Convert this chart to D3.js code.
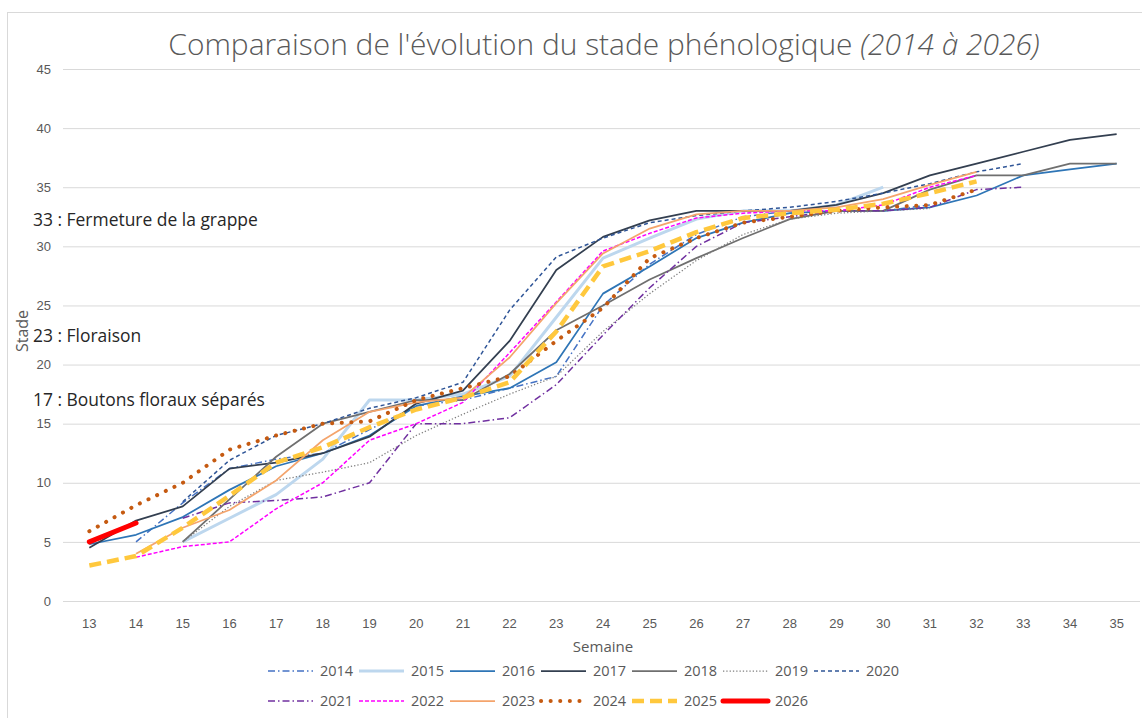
<!DOCTYPE html>
<html>
<head>
<meta charset="utf-8">
<script src="https://cdn.jsdelivr.net/npm/d3@7"></script>
<style>
    body { margin: 0; background: #fff; }
    svg { display: block; font-family: "Open Sans", sans-serif; }
</style>
</head>
<body>
<svg id="chart"></svg>
<script>
// semaines (axe x)
const weeks = [13, 14, 15, 16, 17, 18, 19, 20, 21, 22, 23, 24, 25, 26, 27, 28, 29, 30, 31, 32, 33, 34, 35];
const yTicks = [0, 5, 10, 15, 20, 25, 30, 35, 40, 45];

// stades par semaine, null = pas de relevé
const s2014 = [null, 5, 8.3, 11.2, 12, 12.5, 14.5, 16.5, 17, 18, 19, 25, 28.5, 31, 32.5, 33, 33, 33, 33.5, null, null, null, null];
const s2015 = [null, null, 5, 7, 9, 12, 17, 17, 17.5, 19, 24, 29, 30.7, 32.3, 33, 33, 33.5, 35, null, null, null, null, null];
const s2016 = [4.8, 5.6, 7.1, 9.4, 11.4, 12.5, 14, 16.5, 17.3, 18, 20.2, 26, 28.3, 30.7, 32, 32.8, 33, 33, 33.3, 34.3, 36, 36.5, 37];
const s2017 = [4.5, 6.8, 8, 11.2, 11.7, 12.5, 13.9, 16.7, 17.8, 22, 28, 30.8, 32.2, 33, 33, 33, 33.5, 34.5, 36, 37, 38, 39, 39.5];
const s2018 = [null, null, 5, 8.6, 12.2, 15, 16, 17, 17, 19.2, 22.9, 25, 27.2, 29, 30.7, 32.3, 33, 33, 34.8, 36, 36, 37, 37];
const s2019 = [null, null, 5, 8, 10.2, 10.9, 11.7, 14, 15.8, 17.5, 19, 22.8, 26, 28.8, 31, 32.3, 32.8, 33, 33.2, null, null, null, null];
const s2020 = [null, null, 8.4, 11.9, 14, 15, 16.3, 17.2, 18.5, 24.6, 29.1, 30.7, 32, 32.6, 33, 33.3, 33.8, 34.5, 35.3, 36.3, 37, null, null];
const s2021 = [null, null, 7, 8.3, 8.5, 8.8, 10, 15, 15, 15.5, 18.3, 22.5, 26.5, 30, 32, 32.5, 33, 33, 33.3, 34.8, 35, null, null];
const s2022 = [null, 3.7, 4.6, 5, 7.8, 10, 13.6, 15, 16.8, 21, 25.3, 29.6, 31.1, 32.4, 32.8, 33, 33, 33.5, 35, 36, null, null, null];
const s2023 = [null, 4, 6.2, 7.7, 10.2, 13.6, 16, 16.8, 17.2, 20.6, 25.2, 29.4, 31.5, 32.7, 33, 33, 33.3, 34, 35.2, 36.3, null, null, null];
const s2024 = [5.9, 8.1, 10, 12.8, 14, 15, 15.2, 17, 18, 19, 22, 24.8, 29, 30.7, 32, 32.5, 33, 33.3, 33.5, 34.8, null, null, null];
const s2025 = [3, 3.8, 6.2, 8.9, 11.7, 13, 14.7, 16.2, 17.2, 18.5, 22.8, 28.3, 29.6, 31.2, 32.4, 32.8, 33.1, 33.6, 34.5, 35.5, null, null, null];
const s2026 = [5, 6.6, null, null, null, null, null, null, null, null, null, null, null, null, null, null, null, null, null, null, null, null, null];

const years = ["2014", "2015", "2016", "2017", "2018", "2019", "2020", "2021", "2022", "2023", "2024", "2025", "2026"];
const values = [s2014, s2015, s2016, s2017, s2018, s2019, s2020, s2021, s2022, s2023, s2024, s2025, s2026];

// style de trait par année
const styles = {
    "2014": { color: "#4472C4", width: 1.5, dash: "7,3,1.5,3", cap: "butt" },
    "2015": { color: "#BDD7EE", width: 3, dash: null, cap: "butt" },
    "2016": { color: "#2E75B6", width: 1.75, dash: null, cap: "butt" },
    "2017": { color: "#333F50", width: 1.75, dash: null, cap: "butt" },
    "2018": { color: "#6F6F6F", width: 1.75, dash: null, cap: "butt" },
    "2019": { color: "#7F7F7F", width: 1.25, dash: "1.3,2", cap: "butt" },
    "2020": { color: "#2F5597", width: 1.5, dash: "4,3", cap: "butt" },
    "2021": { color: "#7030A0", width: 1.5, dash: "7,3,1.5,3", cap: "butt" },
    "2022": { color: "#FF00FF", width: 1.5, dash: "4,2", cap: "butt" },
    "2023": { color: "#F4A46C", width: 1.75, dash: null, cap: "butt" },
    "2024": { color: "#C55A11", width: 4, dash: "0.1,9.5", cap: "round" },
    "2025": { color: "#FFC83D", width: 4.5, dash: "12,6", cap: "butt" },
    "2026": { color: "#FF0000", width: 5, dash: null, cap: "round" }
};

const W = 1142, H = 718;
const svg = d3.select("#chart").attr("width", W).attr("height", H);

// cadre du graphique
svg.append("rect")
    .attr("x", 7.5).attr("y", 12.5)
    .attr("width", W).attr("height", H)
    .attr("fill", "#fff").attr("stroke", "#D9D9D9");

const plotLeft = 63, plotRight = 1140, plotTop = 69, plotBottom = 601;

const x = d3.scaleBand().domain(weeks).range([66, plotRight]);
const y = d3.scaleLinear().domain([0, 45]).range([plotBottom, plotTop]);
const cx = w => x(w) + x.bandwidth() / 2;

// grille + axe y
const yAxis = svg.append("g")
    .attr("transform", `translate(${plotLeft},0)`)
    .call(d3.axisLeft(y).tickValues(yTicks).tickSizeInner(-(plotRight - plotLeft)).tickSizeOuter(0).tickPadding(12));
yAxis.select(".domain").remove();
yAxis.selectAll("line").attr("stroke", "#D9D9D9");
yAxis.selectAll("text").attr("fill", "#595959").style("font-size", "13px");

// axe x
const xAxis = svg.append("g")
    .attr("transform", `translate(0,${plotBottom})`)
    .call(d3.axisBottom(x).tickSize(0).tickPadding(18));
xAxis.select(".domain").remove();
xAxis.selectAll("text").attr("fill", "#595959").style("font-size", "13px");

// titres
svg.append("text")
    .attr("x", 603).attr("y", 652)
    .attr("text-anchor", "middle")
    .attr("fill", "#595959")
    .style("font-size", "15px")
    .text("Semaine");

svg.append("text")
    .attr("transform", "translate(28,331) rotate(-90)")
    .attr("text-anchor", "middle")
    .attr("fill", "#595959")
    .style("font-size", "16px")
    .text("Stade");

const title = svg.append("text")
    .attr("x", 604).attr("y", 55)
    .attr("text-anchor", "middle")
    .attr("fill", "#595959")
    .style("font-size", "28px")
    .style("font-weight", 300);
title.append("tspan").text("Comparaison de l'évolution du stade phénologique ");
title.append("tspan").style("font-style", "italic").text("(2014 à 2026)");
// ajuster à la largeur du titre d'origine
let tw = title.node().getComputedTextLength();
title.style("font-size", (28 * 872 / tw) + "px");

// courbes
const line = d3.line()
    .defined(d => d.v != null)
    .x(d => cx(d.w))
    .y(d => y(d.v));

years.forEach((yr, i) => {
    const st = styles[yr];
    const pts = weeks.map((w, j) => ({ w: w, v: values[i][j] }));
    svg.append("path")
        .datum(pts)
        .attr("d", line)
        .attr("fill", "none")
        .attr("stroke", st.color)
        .attr("stroke-width", st.width)
        .attr("stroke-dasharray", st.dash)
        .attr("stroke-linecap", st.cap)
        .attr("stroke-linejoin", "round");
});

// repères de stades
const notes = [
    { t: "33 : Fermeture de la grappe", y: 226 },
    { t: "23 : Floraison", y: 342 },
    { t: "17 : Boutons floraux séparés", y: 406 }
];
const noteText = svg.append("g").selectAll("text")
    .data(notes)
    .join("text")
    .attr("x", 33)
    .attr("y", d => d.y)
    .attr("fill", "#262626")
    .style("font-size", "16px")
    .text(d => d.t);
let nw = noteText.nodes()[0].getComputedTextLength();
noteText.style("font-size", (16 * 225 / nw) + "px");

// légende
const legend = svg.append("g");
years.forEach((yr, i) => {
    const st = styles[yr];
    const row = i < 7 ? 0 : 1;
    const col = i < 7 ? i : i - 7;
    const lx = 268 + col * 91;
    const ly = row == 0 ? 671 : 701;
    legend.append("line")
        .attr("x1", lx).attr("x2", lx + 45)
        .attr("y1", ly).attr("y2", ly)
        .attr("stroke", st.color)
        .attr("stroke-width", st.width)
        .attr("stroke-dasharray", st.dash)
        .attr("stroke-linecap", st.cap);
    legend.append("text")
        .attr("x", lx + 52).attr("y", ly + 5)
        .attr("fill", "#595959")
        .style("font-size", "14.5px")
        .text(yr);
});
</script>
</body>
</html>
